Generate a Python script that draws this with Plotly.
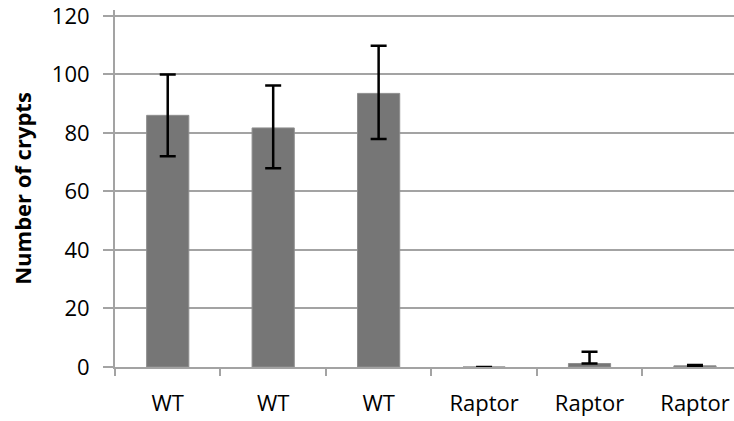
import plotly.graph_objects as go

categories = ["WT", "WT ", "WT  ", "Raptor", "Raptor ", "Raptor  "]
tick_labels = ["WT", "WT", "WT", "Raptor", "Raptor", "Raptor"]
values = [86.0, 81.7, 93.5, 0.0, 1.2, 0.4]
err_plus = [14.0, 14.5, 16.3, 0.0, 4.0, 0.3]
err_minus = [14.0, 13.8, 15.6, 0.0, 0.0, 0.3]
y_max = 122
y_step = 20

grid = "#a3a3a3"
font_family = "Open Sans"

fig = go.Figure()
fig.add_trace(go.Bar(
    x=categories, y=values, width=0.4,
    marker=dict(color="#767676", line=dict(color="#8e8e8e", width=1)),
    error_y=dict(type="data", symmetric=False, array=err_plus, arrayminus=err_minus,
                 color="black", thickness=2.5, width=8),
))

fig.update_layout(
    width=734, height=421,
    margin=dict(l=115, r=0, t=10, b=54),
    paper_bgcolor="white", plot_bgcolor="white",
    showlegend=False,
    font=dict(family=font_family, color="black"),
    bargap=0.6,
)
fig.update_xaxes(
    type="category", range=[-0.5, 5.37],
    tickmode="array", tickvals=categories, ticktext=tick_labels,
    tickson="boundaries", ticks="outside", ticklen=7, tickwidth=2, tickcolor=grid,
    showline=True, linecolor=grid, linewidth=2, showgrid=False,
    tickfont=dict(size=22, family=font_family), ticklabelstandoff=16,
    ticklabeloverflow="allow",
)
fig.update_yaxes(
    type="linear", autorange=False, range=[0, y_max],
    tickmode="linear", tick0=0, dtick=y_step,
    ticks="outside", ticklen=10, tickwidth=2, tickcolor=grid,
    showline=True, linecolor=grid, linewidth=2,
    showgrid=True, gridcolor=grid, gridwidth=2, zeroline=False,
    tickfont=dict(size=22, family=font_family), ticklabelstandoff=9,
    ticklabeloverflow="allow",
    title=dict(text="<b>Number of crypts</b>", font=dict(size=22, family=font_family), standoff=14),
)

fig.write_html("out.html", config={"displayModeBar": False},
               post_script="document.body.style.margin='0px';")
